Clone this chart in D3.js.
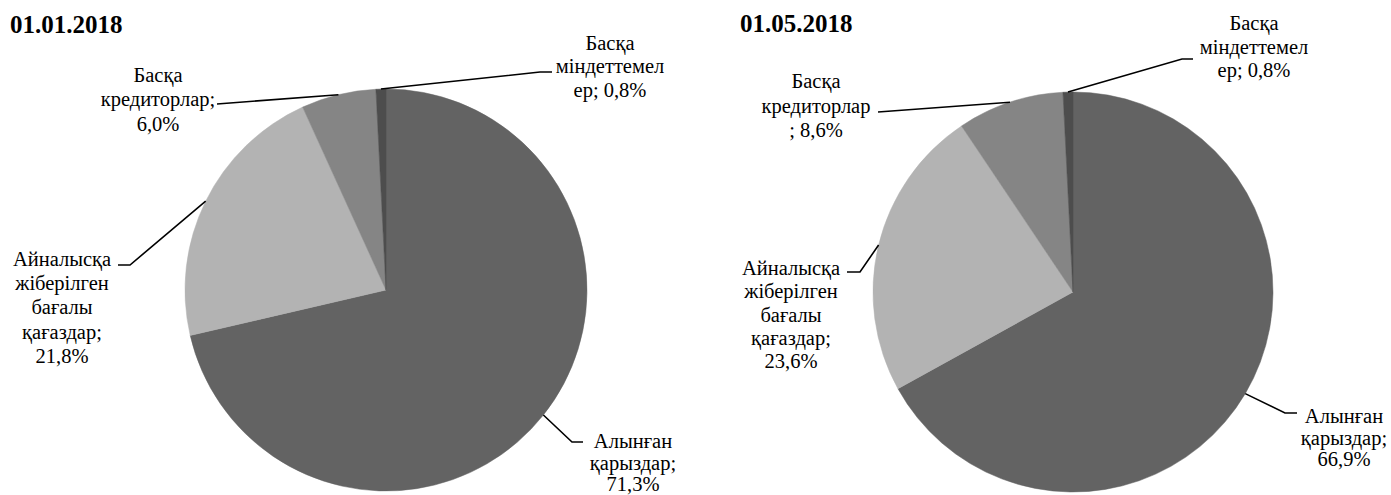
<!DOCTYPE html>
<html>
<head>
<meta charset="utf-8">
<script src="https://cdn.jsdelivr.net/npm/d3@7"></script>
<style>
    body { margin: 0; background: #fff; }
    #chart { width: 1391px; height: 495px; }
    svg text { font-family: "Liberation Serif", "Times New Roman", "DejaVu Serif", serif; }
</style>
</head>
<body>
<div id="chart"></div>
<script>
// data
const categories = ["Алынған қарыздар", "Айналысқа жіберілген бағалы қағаздар", "Басқа кредиторлар", "Басқа міндеттемелер"];
const titles = ["01.01.2018", "01.05.2018"];
const valuesJan = [71.3, 21.8, 6.0, 0.8];
const valuesMay = [66.9, 23.6, 8.6, 0.8];
// label text, split in lines as in the original
const labelsJan = [
    ["Алынған", "қарыздар;", "71,3%"],
    ["Айналысқа", "жіберілген", "бағалы", "қағаздар;", "21,8%"],
    ["Басқа", "кредиторлар;", "6,0%"],
    ["Басқа", "міндеттемел", "ер; 0,8%"]
];
const labelsMay = [
    ["Алынған", "қарыздар;", "66,9%"],
    ["Айналысқа", "жіберілген", "бағалы", "қағаздар;", "23,6%"],
    ["Басқа", "кредиторлар", "; 8,6%"],
    ["Басқа", "міндеттемел", "ер; 0,8%"]
];
const colors = ["#636363", "#b3b3b3", "#858585", "#4d4d4d"];

var width = 1391,
    height = 495;

var svg = d3.select("#chart").append("svg")
    .attr("width", width)
    .attr("height", height);

// layout: label centre x, first baseline, line step, leader elbow and end
var layoutJan = {
    cx: 386, cy: 290, r: 201, tx: 10, ty: 33,
    labels: [
        {x: 633, y: 448, step: 21.5, ex: 572, ey: 442, lx: 583},
        {x: 62, y: 266, step: 24.2, ex: 130, ey: 265, lx: 118},
        {x: 158, y: 82, step: 24.3, ex: 217, ey: 104, lx: 217},
        {x: 610, y: 50, step: 23.3, ex: 540, ey: 72, lx: 552}
    ]
};
var layoutMay = {
    cx: 1073, cy: 292, r: 200, tx: 740, ty: 32,
    labels: [
        {x: 1344, y: 423, step: 21.5, ex: 1285, ey: 413, lx: 1297},
        {x: 791, y: 275, step: 23.3, ex: 860, ey: 272, lx: 847},
        {x: 816, y: 88, step: 24.5, ex: 878, ey: 112, lx: 878},
        {x: 1254, y: 30, step: 23.5, ex: 1182, ey: 59, lx: 1193}
    ]
};

function DrawPie(values, labels, title, lay) {
    let g = svg.append("g");

    g.append("text")
        .attr("x", lay.tx)
        .attr("y", lay.ty)
        .attr("font-weight", "bold")
        .attr("font-size", 25)
        .attr("fill", "#000")
        .text(title);

    let pie = d3.pie().sort(null).value(function (d) { return d; });
    let arcs = pie(values);

    let arc = d3.arc().innerRadius(0).outerRadius(lay.r);
    let edge = d3.arc().innerRadius(lay.r).outerRadius(lay.r);

    let pg = g.append("g")
        .attr("transform", "translate(" + lay.cx + "," + lay.cy + ")");

    pg.selectAll("path")
        .data(arcs)
        .enter()
        .append("path")
        .attr("d", arc)
        .attr("fill", function (d, i) { return colors[i]; })
        .attr("stroke", function (d, i) { return colors[i]; })
        .attr("stroke-width", 0.5);

    for (let i in arcs) {
        let p = edge.centroid(arcs[i]);
        let L = lay.labels[i];
        let pts = [[lay.cx + p[0], lay.cy + p[1]], [L.ex, L.ey], [L.lx, L.ey]];
        g.append("path")
            .attr("d", d3.line()(pts))
            .attr("fill", "none")
            .attr("stroke", "#000")
            .attr("stroke-width", 1.6);

        let t = g.append("text")
            .attr("font-size", 20.5)
            .attr("fill", "#000")
            .attr("text-anchor", "middle")
            .attr("data-category", categories[i]);
        labels[i].forEach(function (s, k) {
            t.append("tspan")
                .attr("x", L.x)
                .attr("y", L.y + k * L.step)
                .text(s);
        });
    }
}

DrawPie(valuesJan, labelsJan, titles[0], layoutJan);
DrawPie(valuesMay, labelsMay, titles[1], layoutMay);
</script>
</body>
</html>
